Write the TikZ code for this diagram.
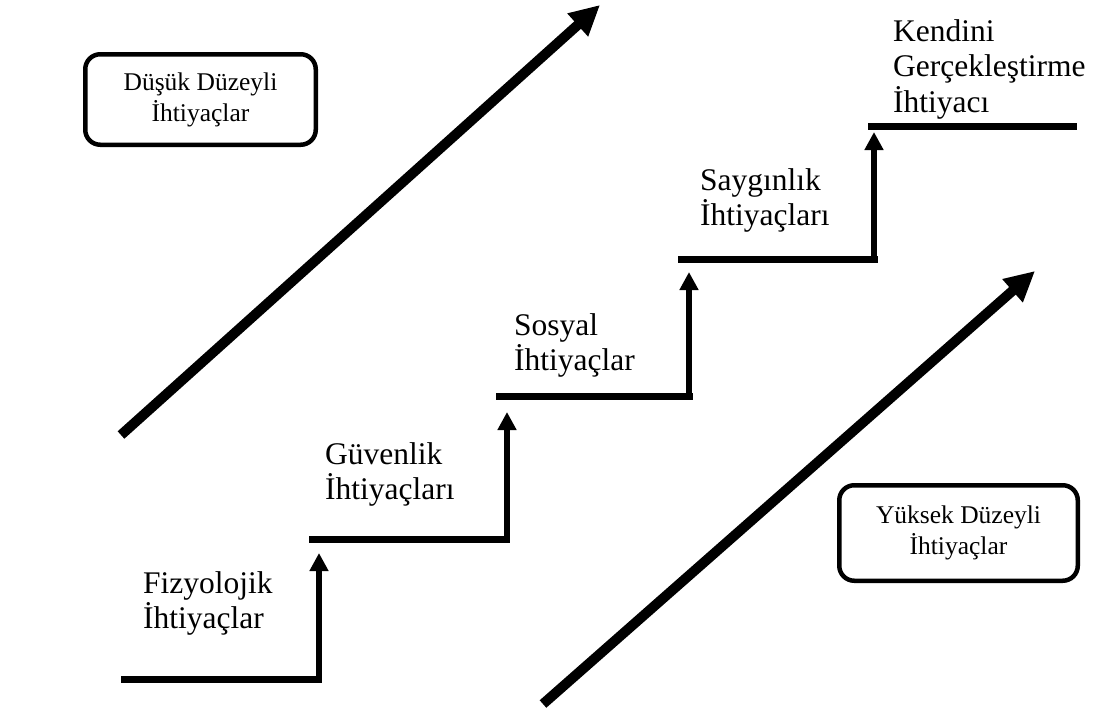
\documentclass[tikz,border=0pt]{standalone}
\usepackage{fontspec}
\setmainfont{Liberation Serif}
\usetikzlibrary{arrows.meta}
% left-aligned stacked lines whose baseline is the first line's baseline
\newcommand{\stacklines}[1]{\vtop{\baselineskip=35.5pt\lineskiplimit=-100pt\halign{##\hfil\cr#1\crcr}}}
\tikzset{
  stair/.style={line width=7pt},
  riser/.style={line width=6pt, -{Triangle[length=18pt,width=18pt]}},
  trend/.style={line width=10pt, -{Triangle[length=30pt,width=29pt]}},
  levelbox/.style={draw, line width=4.5pt, rounded corners=15pt, align=center,
    inner sep=0pt, font=\fontsize{25.5}{31}\selectfont},
  steplabel/.style={anchor=base west, inner sep=0pt, font=\fontsize{31.5}{35.5}\selectfont}
}
\begin{document}
\begin{tikzpicture}[x=1pt, y=-1pt]
\useasboundingbox (0,0) rectangle (1094,720);
\fill[white] (0,0) rectangle (1094,720);

% level boxes
\node[levelbox, minimum width=230.5pt, minimum height=90.5pt] (low) at (200.5,99.5)
  {Düşük Düzeyli\\İhtiyaçlar};
\node[levelbox, minimum width=238.5pt, minimum height=95.5pt] (high) at (958.5,533)
  {Yüksek Düzeyli\\İhtiyaçlar};

% long trend arrows
\coordinate (lowS) at (121,435);
\coordinate (lowE) at (600,5);
\coordinate (highS) at (543,704);
\coordinate (highE) at (1035,271);
\draw[trend] (lowS) -- (lowE);
\draw[trend] (highS) -- (highE);

% stair treads
\coordinate (t1a) at (121,679); \coordinate (t1b) at (322,679);
\coordinate (t2a) at (309,539); \coordinate (t2b) at (510,539);
\coordinate (t3a) at (496,396); \coordinate (t3b) at (693,396);
\coordinate (t4a) at (678,259); \coordinate (t4b) at (878,259);
\coordinate (t5a) at (868,126); \coordinate (t5b) at (1077,126);
\draw[stair] (t1a) -- (t1b);
\draw[stair] (t2a) -- (t2b);
\draw[stair] (t3a) -- (t3b);
\draw[stair] (t4a) -- (t4b);
\draw[stair] (t5a) -- (t5b);

% risers
\coordinate (r1s) at (319,682); \coordinate (r1e) at (319,553);
\coordinate (r2s) at (507,542); \coordinate (r2e) at (507,412);
\coordinate (r3s) at (689,399); \coordinate (r3e) at (689,272);
\coordinate (r4s) at (874,262); \coordinate (r4e) at (874,132);
\draw[riser] (r1s) -- (r1e);
\draw[riser] (r2s) -- (r2e);
\draw[riser] (r3s) -- (r3e);
\draw[riser] (r4s) -- (r4e);

% step labels
\node[steplabel] (fiz) at (143,593) {\stacklines{Fizyolojik\cr İhtiyaçlar}};
\node[steplabel] (guv) at (325,464) {\stacklines{Güvenlik\cr İhtiyaçları}};
\node[steplabel] (sos) at (514,335) {\stacklines{Sosyal\cr İhtiyaçlar}};
\node[steplabel] (say) at (700,190) {\stacklines{Saygınlık\cr İhtiyaçları}};
\node[steplabel] (ken) at (893,41) {\stacklines{Kendini\cr Gerçekleştirme\cr İhtiyacı}};
\end{tikzpicture}
\end{document}
